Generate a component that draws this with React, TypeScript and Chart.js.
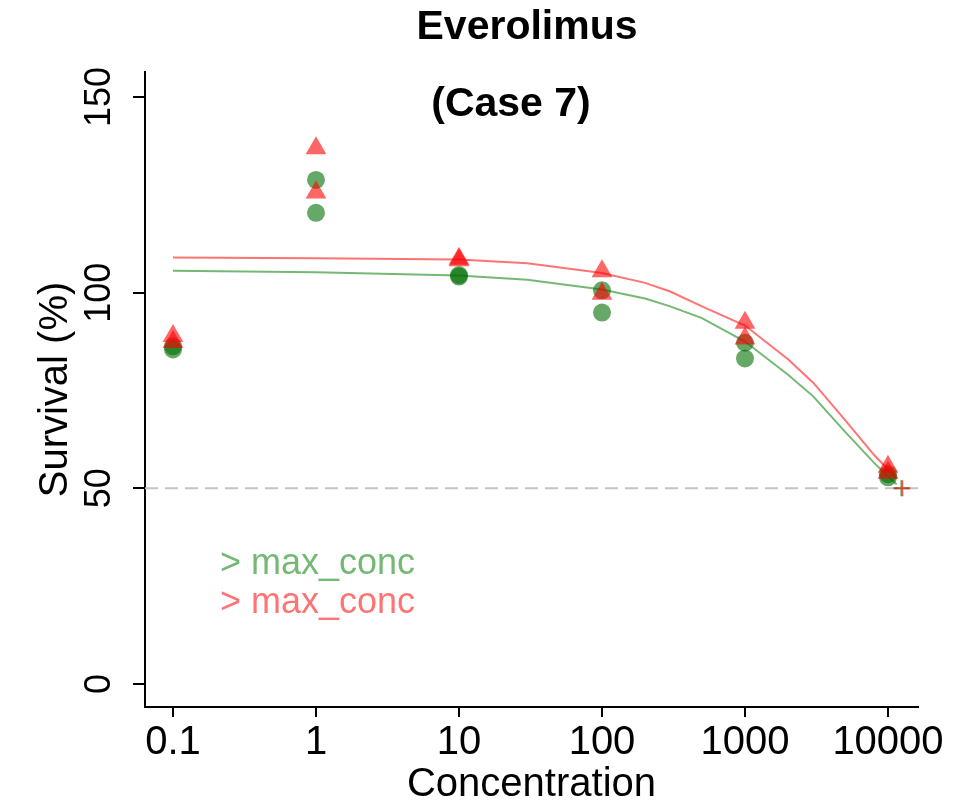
import React, { useEffect, useRef } from 'react';
import { Chart, registerables } from 'chart.js';

Chart.register(...registerables);

// ---- data ----
const TITLE = 'Everolimus';
const SUBTITLE = '(Case 7)';
const X_TITLE = 'Concentration';
const Y_TITLE = 'Survival (%)';
const LEGEND_LABELS = ['> max_conc', '> max_conc'];

const X_TICKS = [0.1, 1, 10, 100, 1000, 10000];
const X_TICK_LABELS = ['0.1', '1', '10', '100', '1000', '10000'];
const Y_TICKS = [0, 50, 100, 150];
const Y_TICK_LABELS = ['0', '50', '100', '150'];

const X_MIN = 0.0637;
const X_MAX = 16212;
const Y_MIN = -5.9;
const Y_MAX = 156.4;

const CONCENTRATIONS = [0.1, 1, 10, 100, 1000, 10000];
const GREEN_REP1 = [85.5, 128.8, 104.5, 100.6, 87.2, 52.8];
const GREEN_REP2 = [86.3, 120.4, 104.1, 94.9, 83.2, 53.6];
const RED_REP1 = [88.9, 136.9, 108.7, 105.5, 92.3, 55.5];
const RED_REP2 = [87.4, 125.6, 108.3, 99.7, 88.3, 54.0];

const CURVE_X = [0.1, 1, 10, 30, 100, 200, 300, 500, 1000, 2000, 3000, 5000, 8000, 10000, 11500];
const GREEN_CURVE = [105.6, 105.2, 104.4, 103.3, 100.8, 98.5, 96.5, 93.5, 87.5, 79.0, 73.5, 64.5, 56.5, 53.0, 51.0];
const RED_CURVE = [109.0, 108.8, 108.5, 107.5, 105.0, 102.5, 100.3, 96.5, 91.6, 83.0, 77.0, 67.5, 58.5, 54.8, 52.5];

const CUTOFF = 50;
const IC50_X = [12400, 12600];

const GREEN_PT = 'rgba(0,110,0,0.6)';
const RED_PT = 'rgba(255,0,0,0.6)';
const GREEN_LINE = 'rgba(0,128,0,0.55)';
const RED_LINE = 'rgba(255,0,0,0.55)';
const FONT = '"Liberation Sans", Arial, sans-serif';

const pts = (xs: number[], ys: number[]) => xs.map((x, i) => ({ x, y: ys[i] }));

const textPlugin = {
  id: 'extraTexts',
  afterDraw(chart: any) {
    const ctx = chart.ctx as CanvasRenderingContext2D;
    ctx.save();
    ctx.fillStyle = '#000';
    ctx.font = `bold 41px ${FONT}`;
    ctx.textAlign = 'center';
    ctx.textBaseline = 'middle';
    ctx.fillText(TITLE, 527, 28);
    ctx.fillText(SUBTITLE, 511, 105);
    ctx.font = `36px ${FONT}`;
    ctx.textAlign = 'left';
    ctx.fillStyle = GREEN_LINE;
    ctx.fillText(LEGEND_LABELS[0], 220, 564);
    ctx.fillStyle = RED_LINE;
    ctx.fillText(LEGEND_LABELS[1], 220, 603);
    ctx.restore();
  },
};

export default function App() {
  const ref = useRef<HTMLCanvasElement | null>(null);
  useEffect(() => {
    if (!ref.current) return;
    Chart.defaults.font.family = FONT;
    const chart = new Chart(ref.current, {
      type: 'scatter',
      data: {
        datasets: [
          {
            label: 'cutoff',
            data: [{ x: X_MIN, y: CUTOFF }, { x: X_MAX, y: CUTOFF }],
            showLine: true,
            borderColor: '#c4c4c4',
            borderWidth: 2,
            borderDash: [13, 7],
            pointRadius: 0,
            order: 10,
          },
          {
            label: 'green fit',
            data: pts(CURVE_X, GREEN_CURVE),
            showLine: true,
            borderColor: GREEN_LINE,
            borderWidth: 2,
            pointRadius: 0,
            tension: 0,
            order: 6,
          },
          {
            label: 'red fit',
            data: pts(CURVE_X, RED_CURVE),
            showLine: true,
            borderColor: RED_LINE,
            borderWidth: 2,
            pointRadius: 0,
            tension: 0,
            order: 5,
          },
          {
            label: 'green',
            data: [...pts(CONCENTRATIONS, GREEN_REP1), ...pts(CONCENTRATIONS, GREEN_REP2)],
            pointStyle: 'circle',
            pointRadius: 9,
            backgroundColor: GREEN_PT,
            borderWidth: 0,
            order: 4,
          },
          {
            label: 'red',
            data: [...pts(CONCENTRATIONS, RED_REP1), ...pts(CONCENTRATIONS, RED_REP2)],
            pointStyle: 'triangle',
            pointRadius: 12,
            backgroundColor: RED_PT,
            borderWidth: 0,
            order: 3,
          },
          {
            label: 'green ic50',
            data: [{ x: IC50_X[0], y: CUTOFF }],
            pointStyle: 'cross',
            pointRadius: 8,
            borderColor: GREEN_LINE,
            borderWidth: 2,
            order: 2,
          },
          {
            label: 'red ic50',
            data: [{ x: IC50_X[1], y: CUTOFF }],
            pointStyle: 'cross',
            pointRadius: 8,
            borderColor: RED_PT,
            borderWidth: 2,
            order: 1,
          },
        ],
      },
      options: {
        animation: false,
        responsive: false,
        layout: { padding: { left: 0, right: 55, top: 72, bottom: 0 } },
        plugins: {
          legend: { display: false },
          tooltip: { enabled: false },
          title: { display: false },
        },
        scales: {
          x: {
            type: 'logarithmic',
            min: X_MIN,
            max: X_MAX,
            afterBuildTicks: (s: any) => {
              s.ticks = X_TICKS.map((v) => ({ value: v }));
            },
            afterFit: (s: any) => {
              s.height = 104;
            },
            ticks: {
              autoSkip: false,
              maxRotation: 0,
              minRotation: 0,
              padding: 2,
              color: '#000',
              font: { size: 40, family: FONT },
              callback: (_v: any, i: number) => X_TICK_LABELS[i],
            },
            grid: { drawOnChartArea: false, drawTicks: true, tickLength: 10, color: '#000', lineWidth: 2 },
            border: { display: true, color: '#000', width: 2 },
            title: {
              display: true,
              text: X_TITLE,
              color: '#000',
              font: { size: 40, family: FONT },
              padding: { top: 0, bottom: 2 },
            },
          },
          y: {
            type: 'linear',
            min: Y_MIN,
            max: Y_MAX,
            afterBuildTicks: (s: any) => {
              s.ticks = Y_TICKS.map((v) => ({ value: v }));
            },
            afterFit: (s: any) => {
              s.width = 145;
            },
            ticks: {
              autoSkip: false,
              minRotation: 90,
              maxRotation: 90,
              crossAlign: 'center',
              padding: 3,
              color: '#000',
              font: { size: 36, family: FONT },
              callback: (_v: any, i: number) => Y_TICK_LABELS[i],
            },
            grid: { drawOnChartArea: false, drawTicks: true, tickLength: 12, color: '#000', lineWidth: 2 },
            border: { display: true, color: '#000', width: 2 },
            title: {
              display: true,
              text: Y_TITLE,
              color: '#000',
              font: { size: 40, family: FONT },
              padding: { top: 32, bottom: 0 },
            },
          },
        },
      },
      plugins: [textPlugin],
    } as any);
    return () => chart.destroy();
  }, []);
  return (
    <div style={{ position: 'fixed', left: 0, top: 0, width: 973, height: 811, background: '#fff' }}>
      <canvas ref={ref} width={973} height={811} />
    </div>
  );
}
